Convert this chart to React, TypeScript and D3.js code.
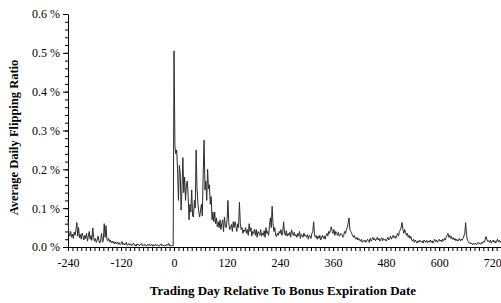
import React, { useRef, useEffect } from 'react';
import * as d3 from 'd3';

// trading days, sampled every 2 days from -240 to 740
const dayStart = -240;
const dayStep = 2;

// average daily flipping ratio (%)
const ratio: number[] = [
  0.072, 0.035, 0.028, 0.04, 0.025, 0.033, 0.022, 0.038, 0.03, 0.045,
  0.063, 0.028, 0.05, 0.024, 0.032, 0.02, 0.036, 0.027, 0.018, 0.03,
  0.022, 0.035, 0.015, 0.028, 0.04, 0.02, 0.03, 0.017, 0.049, 0.025,
  0.015, 0.022, 0.012, 0.018, 0.028, 0.016, 0.01, 0.02, 0.035, 0.012,
  0.018, 0.06, 0.025, 0.055, 0.02, 0.016, 0.022, 0.013, 0.018, 0.011,
  0.015, 0.01, 0.014, 0.008, 0.012, 0.009, 0.013, 0.007, 0.011, 0.006,
  0.009, 0.014, 0.006, 0.01, 0.005, 0.008, 0.012, 0.004, 0.007, 0.009,
  0.005, 0.008, 0.003, 0.007, 0.01, 0.004, 0.006, 0.002, 0.008, 0.005,
  0.007, 0.003, 0.006, 0.009, 0.004, 0.006, 0.003, 0.007, 0.005, 0.002,
  0.006, 0.004, 0.008, 0.003, 0.005, 0.007, 0.002, 0.006, 0.004, 0.007,
  0.003, 0.006, 0.004, 0.002, 0.005, 0.008, 0.003, 0.006, 0.004, 0.002,
  0.005, 0.003, 0.007, 0.004, 0.009, 0.003, 0.005, 0.002, 0.004, 0.003,
  0.505, 0.26, 0.24, 0.25, 0.2, 0.12, 0.21, 0.19, 0.095, 0.15,
  0.23, 0.14, 0.18, 0.12, 0.16, 0.17, 0.13, 0.07, 0.11, 0.09,
  0.147, 0.08, 0.077, 0.12, 0.1, 0.25, 0.15, 0.113, 0.09, 0.077,
  0.095, 0.11, 0.08, 0.19, 0.275, 0.147, 0.17, 0.12, 0.2, 0.15,
  0.16, 0.11, 0.13, 0.07, 0.09, 0.065, 0.09, 0.06, 0.075, 0.052,
  0.065, 0.05, 0.07, 0.045, 0.06, 0.07, 0.04, 0.077, 0.055, 0.05,
  0.07, 0.12, 0.06, 0.045, 0.05, 0.058, 0.04, 0.065, 0.05, 0.065,
  0.055, 0.04, 0.06, 0.05, 0.115, 0.06, 0.045, 0.05, 0.035, 0.044,
  0.04, 0.05, 0.035, 0.045, 0.03, 0.06, 0.04, 0.05, 0.028, 0.04,
  0.035, 0.045, 0.03, 0.045, 0.025, 0.04, 0.036, 0.03, 0.045, 0.028,
  0.036, 0.03, 0.042, 0.025, 0.05, 0.035, 0.04, 0.03, 0.055, 0.075,
  0.05, 0.105, 0.06, 0.04, 0.05, 0.03, 0.027, 0.036, 0.03, 0.04,
  0.035, 0.045, 0.03, 0.038, 0.065, 0.035, 0.03, 0.042, 0.028, 0.035,
  0.03, 0.038, 0.025, 0.044, 0.035, 0.03, 0.038, 0.028, 0.032, 0.025,
  0.035, 0.028, 0.04, 0.022, 0.033, 0.03, 0.025, 0.036, 0.028, 0.03,
  0.025, 0.032, 0.02, 0.03, 0.028, 0.022, 0.035, 0.04, 0.065, 0.03,
  0.025, 0.03, 0.02, 0.028, 0.022, 0.03, 0.018, 0.025, 0.03, 0.022,
  0.028, 0.02, 0.03, 0.035, 0.028, 0.04, 0.035, 0.045, 0.052, 0.04,
  0.035, 0.045, 0.03, 0.04, 0.035, 0.03, 0.038, 0.028, 0.03, 0.035,
  0.032, 0.025, 0.03, 0.04, 0.035, 0.045, 0.05, 0.06, 0.075, 0.045,
  0.04, 0.035, 0.03, 0.025, 0.03, 0.022, 0.02, 0.025, 0.018, 0.022,
  0.018, 0.015, 0.02, 0.012, 0.016, 0.014, 0.018, 0.012, 0.015, 0.02,
  0.016, 0.012, 0.022, 0.015, 0.02, 0.025, 0.018, 0.022, 0.016, 0.02,
  0.025, 0.018, 0.022, 0.015, 0.02, 0.024, 0.016, 0.022, 0.018, 0.02,
  0.015, 0.02, 0.025, 0.018, 0.022, 0.028, 0.02, 0.025, 0.03, 0.024,
  0.028, 0.022, 0.03, 0.035, 0.028, 0.04, 0.044, 0.05, 0.063, 0.045,
  0.035, 0.045, 0.038, 0.03, 0.035, 0.025, 0.03, 0.022, 0.027, 0.018,
  0.015, 0.02, 0.012, 0.018, 0.014, 0.01, 0.016, 0.012, 0.018, 0.014,
  0.012, 0.016, 0.01, 0.018, 0.014, 0.012, 0.017, 0.011, 0.015, 0.013,
  0.018, 0.012, 0.016, 0.01, 0.015, 0.02, 0.014, 0.018, 0.012, 0.016,
  0.02, 0.015, 0.018, 0.013, 0.02, 0.016, 0.022, 0.018, 0.025, 0.03,
  0.035, 0.025, 0.03, 0.022, 0.027, 0.02, 0.024, 0.018, 0.022, 0.016,
  0.02, 0.015, 0.018, 0.022, 0.016, 0.02, 0.017, 0.022, 0.028, 0.035,
  0.063, 0.03, 0.018, 0.014, 0.01, 0.012, 0.008, 0.01, 0.006, 0.009,
  0.007, 0.01, 0.006, 0.009, 0.012, 0.008, 0.01, 0.007, 0.012, 0.009,
  0.014, 0.012, 0.018, 0.027, 0.02, 0.014, 0.016, 0.012, 0.018, 0.01,
  0.014, 0.018, 0.012, 0.016, 0.01, 0.015, 0.02, 0.013, 0.017, 0.012,
  0.015,
];

const xTicks = [-240, -120, 0, 120, 240, 360, 480, 600, 720];
const yTicks = [0, 0.1, 0.2, 0.3, 0.4, 0.5, 0.6];

const W = 501;
const H = 303;
const FONT = "'Liberation Serif', 'Times New Roman', Times, Tinos, 'Noto Serif', 'DejaVu Serif', FreeSerif, serif";

const App: React.FC = () => {
  const ref = useRef<SVGSVGElement>(null);

  useEffect(() => {
    if (!ref.current) return;
    const svg = d3.select(ref.current);
    svg.selectAll('*').remove();

    const left = 68, right = 501, top = 14, bottom = 247;

    const x = d3.scaleLinear().domain([-240, 740]).range([left, right]);
    const y = d3.scaleLinear().domain([0, 0.6]).range([bottom, top]);

    // minor ticks
    const xMinor = d3.range(-240, 741, 10);
    const yMinor = d3.range(0, 0.601, 0.02);

    // y axis
    const yAxis = svg.append('g')
      .attr('transform', `translate(${left},0)`)
      .call(d3.axisLeft(y).tickValues(yTicks).tickSize(5).tickSizeOuter(0)
        .tickFormat(d => `${d3.format('.1f')(+d)} %`));
    yAxis.attr('font-family', null).attr('font-size', null);
    yAxis.select('.domain').attr('stroke', '#000');
    yAxis.selectAll('text').style('font-family', FONT).style('font-size', '12px').attr('fill', '#000').attr('x', -8);

    svg.append('g')
      .attr('transform', `translate(${left},0)`)
      .call(d3.axisLeft(y).tickValues(yMinor).tickSize(3).tickSizeOuter(0).tickFormat(() => ''))
      .select('.domain').remove();

    // x axis
    const xAxis = svg.append('g')
      .attr('transform', `translate(0,${bottom})`)
      .call(d3.axisBottom(x).tickValues(xTicks).tickSize(4).tickSizeOuter(0)
        .tickFormat(d => `${d}`));
    xAxis.attr('font-family', null).attr('font-size', null);
    xAxis.select('.domain').attr('stroke', '#000').attr('stroke-width', 1.2);
    xAxis.selectAll('text').style('font-family', FONT).style('font-size', '12px').attr('fill', '#000').attr('y', 11);

    svg.append('g')
      .attr('transform', `translate(0,${bottom})`)
      .call(d3.axisBottom(x).tickValues(xMinor).tickSize(4).tickSizeOuter(0).tickFormat(() => ''))
      .select('.domain').remove();

    // series
    const line = d3.line<number>()
      .x((_, i) => x(dayStart + i * dayStep))
      .y(d => y(d));

    svg.append('path')
      .datum(ratio)
      .attr('fill', 'none')
      .attr('stroke', '#2b2b2b')
      .attr('stroke-width', 1)
      .attr('stroke-linejoin', 'round')
      .attr('d', line);

    // titles
    svg.append('text')
      .attr('x', 283)
      .attr('y', 295)
      .attr('text-anchor', 'middle')
      .style('font-family', FONT)
      .style('font-weight', 'bold')
      .style('font-size', '13px')
      .text('Trading Day Relative To Bonus Expiration Date');

    svg.append('text')
      .attr('transform', `translate(18,${(top + bottom) / 2 + 7}) rotate(-90)`)
      .attr('text-anchor', 'middle')
      .style('font-family', FONT)
      .style('font-weight', 'bold')
      .style('font-size', '12.5px')
      .text('Average Daily Flipping Ratio');
  }, []);

  return (
    <svg
      ref={ref}
      width={W}
      height={H}
      style={{ position: 'absolute', left: 0, top: 0, background: '#fff' }}
    />
  );
};

export default App;
